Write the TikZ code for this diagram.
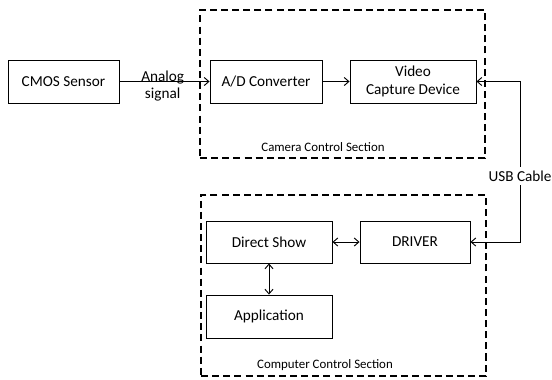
\documentclass[tikz,border=0pt]{standalone}
\usepackage{fontspec}
\setmainfont{Carlito}
\usetikzlibrary{arrows.meta, positioning}

\begin{document}
\begin{tikzpicture}[
  x=0.03cm, y=-0.03cm,
  every node/.style={font=\fontsize{13}{15}\selectfont, align=center},
  block/.style   ={rectangle, draw, line width=0.8pt,
                   minimum height=1.29cm, minimum width=3.78cm, inner sep=0pt},
  section/.style ={rectangle, draw, dashed, line width=1.5pt,
                   dash pattern=on 6pt off 3.5pt, inner sep=0pt},
  caption/.style ={font=\fontsize{11}{13}\selectfont},
  arr/.style     ={-{Straight Barb[length=4pt, width=7pt]}, line width=0.8pt},
  arr2/.style    ={{Straight Barb[length=4pt, width=7pt]}-{Straight Barb[length=4pt, width=7pt]}, line width=0.8pt},
]
\useasboundingbox (0,0) rectangle (552,379);

% Camera side
\node[section, minimum width=8.55cm, minimum height=4.44cm] (cam) at (342.5,84) {};
\node[block, minimum width=3.33cm] (cmos)  at (63.5,81.5) {CMOS Sensor};
\node[block, minimum width=3.36cm] (adc)   at (266,81.5)  {A/D Converter};
\node[block] (video) at (413,81.5) {Video\\Capture Device};
\node[caption] (camlbl) at (323,147) {Camera Control\ Section};

% Computer side
\node[section, minimum width=8.55cm, minimum height=5.43cm] (comp) at (343.5,285.5) {};
\node[block, minimum height=1.26cm] (dshow)  at (269,242)   {Direct Show};
\node[block, minimum height=1.26cm, minimum width=3.3cm] (driver) at (415,242) {DRIVER};
\node[block] (app)    at (269,316.5) {Application};
\node[caption] (complbl) at (325,365) {Computer Control\ Section};

% USB
\node (usb) at (520,176) {USB Cable};

% Wires
\draw[arr] (cmos) -- node[pos=0.48, inner sep=0pt, yshift=-4pt] {Analog\\signal} (adc);
\draw[arr] (adc) -- (video);
\draw[arr] (usb.north) |- (video.east);
\draw[arr] (usb.south) |- (driver.east);
\draw[arr2] (dshow) -- (driver);
\draw[arr2] (dshow) -- (app);

\end{tikzpicture}
\end{document}
